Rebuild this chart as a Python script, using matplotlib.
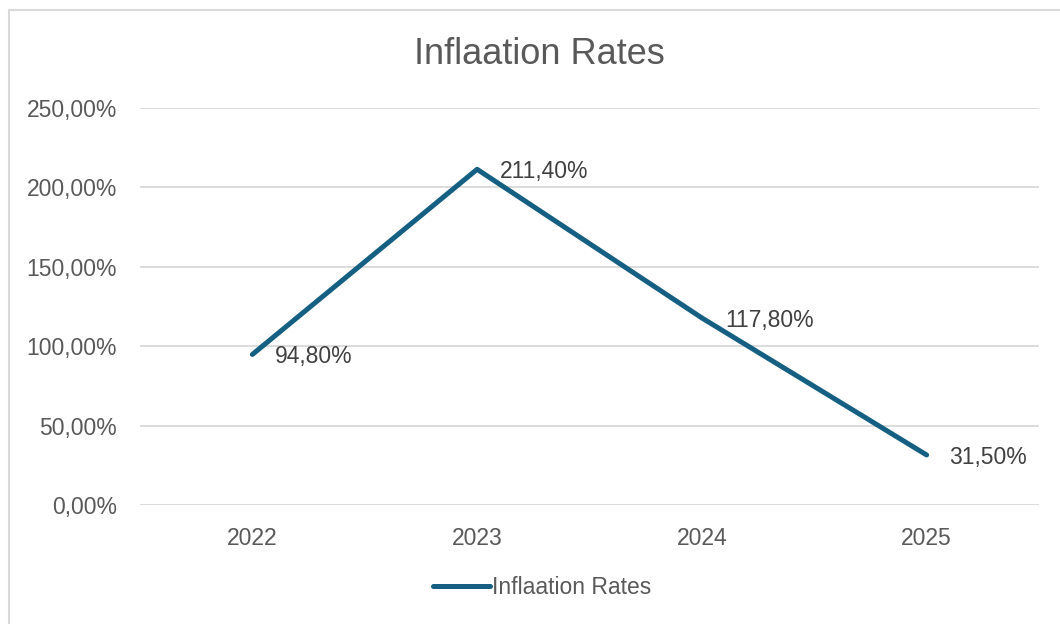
import matplotlib.pyplot as plt
from matplotlib.patches import Rectangle

years = ['2022', '2023', '2024', '2025']
rates = [94.8, 211.4, 117.8, 31.5]
y_ticks = [0, 50, 100, 150, 200, 250]
series_name = 'Inflaation Rates'


def pct(v):
    return f'{v:.2f}'.replace('.', ',') + '%'


plt.rcParams['font.family'] = ['Liberation Sans', 'DejaVu Sans']

fig = plt.figure(figsize=(10.6, 6.24), dpi=100)
fig.patch.set_facecolor('white')

# chart border (Excel chart area)
fig.patches.append(Rectangle((9 / 1060, -0.05), 1.1, 1 - 10 / 624 + 0.05,
                             transform=fig.transFigure, fill=False,
                             edgecolor='#D9D9D9', linewidth=1.5))

ax = fig.add_axes([140 / 1060, 119 / 624, 899 / 1060, 397 / 624])
x = list(range(len(years)))
line, = ax.plot(x, rates, color='#156082', linewidth=3.6,
                solid_capstyle='round', solid_joinstyle='round',
                label=series_name)

for xi, v in zip(x, rates):
    ax.annotate(pct(v), (xi, v), xytext=(16.5, -1.5), textcoords='offset points',
                ha='left', va='center', fontsize=16.5, color='#404040')

ax.set_xlim(-0.5, len(years) - 0.5)
ax.set_ylim(0, 250)
ax.set_yticks(y_ticks)
ax.set_yticklabels([pct(v) for v in y_ticks])
ax.set_xticks(x)
ax.set_xticklabels(years)
ax.tick_params(axis='both', length=0, labelsize=16.5, colors='#595959')
ax.tick_params(axis='y', pad=16.5)
ax.tick_params(axis='x', pad=16)
ax.grid(axis='y', color='#D9D9D9', linewidth=1.3)
ax.set_axisbelow(True)
for s in ax.spines.values():
    s.set_visible(False)

fig.text(539 / 1060, 1 - 54 / 624, 'Inflaation Rates', ha='center', va='center',
         fontsize=26, color='#595959')

fig.legend(handles=[line], loc='center', bbox_to_anchor=(542 / 1060, 1 - 588 / 624),
           frameon=False, fontsize=16.5, labelcolor='#595959',
           handlelength=2.5, handletextpad=0.1)

fig.savefig('out.png', dpi=100)
